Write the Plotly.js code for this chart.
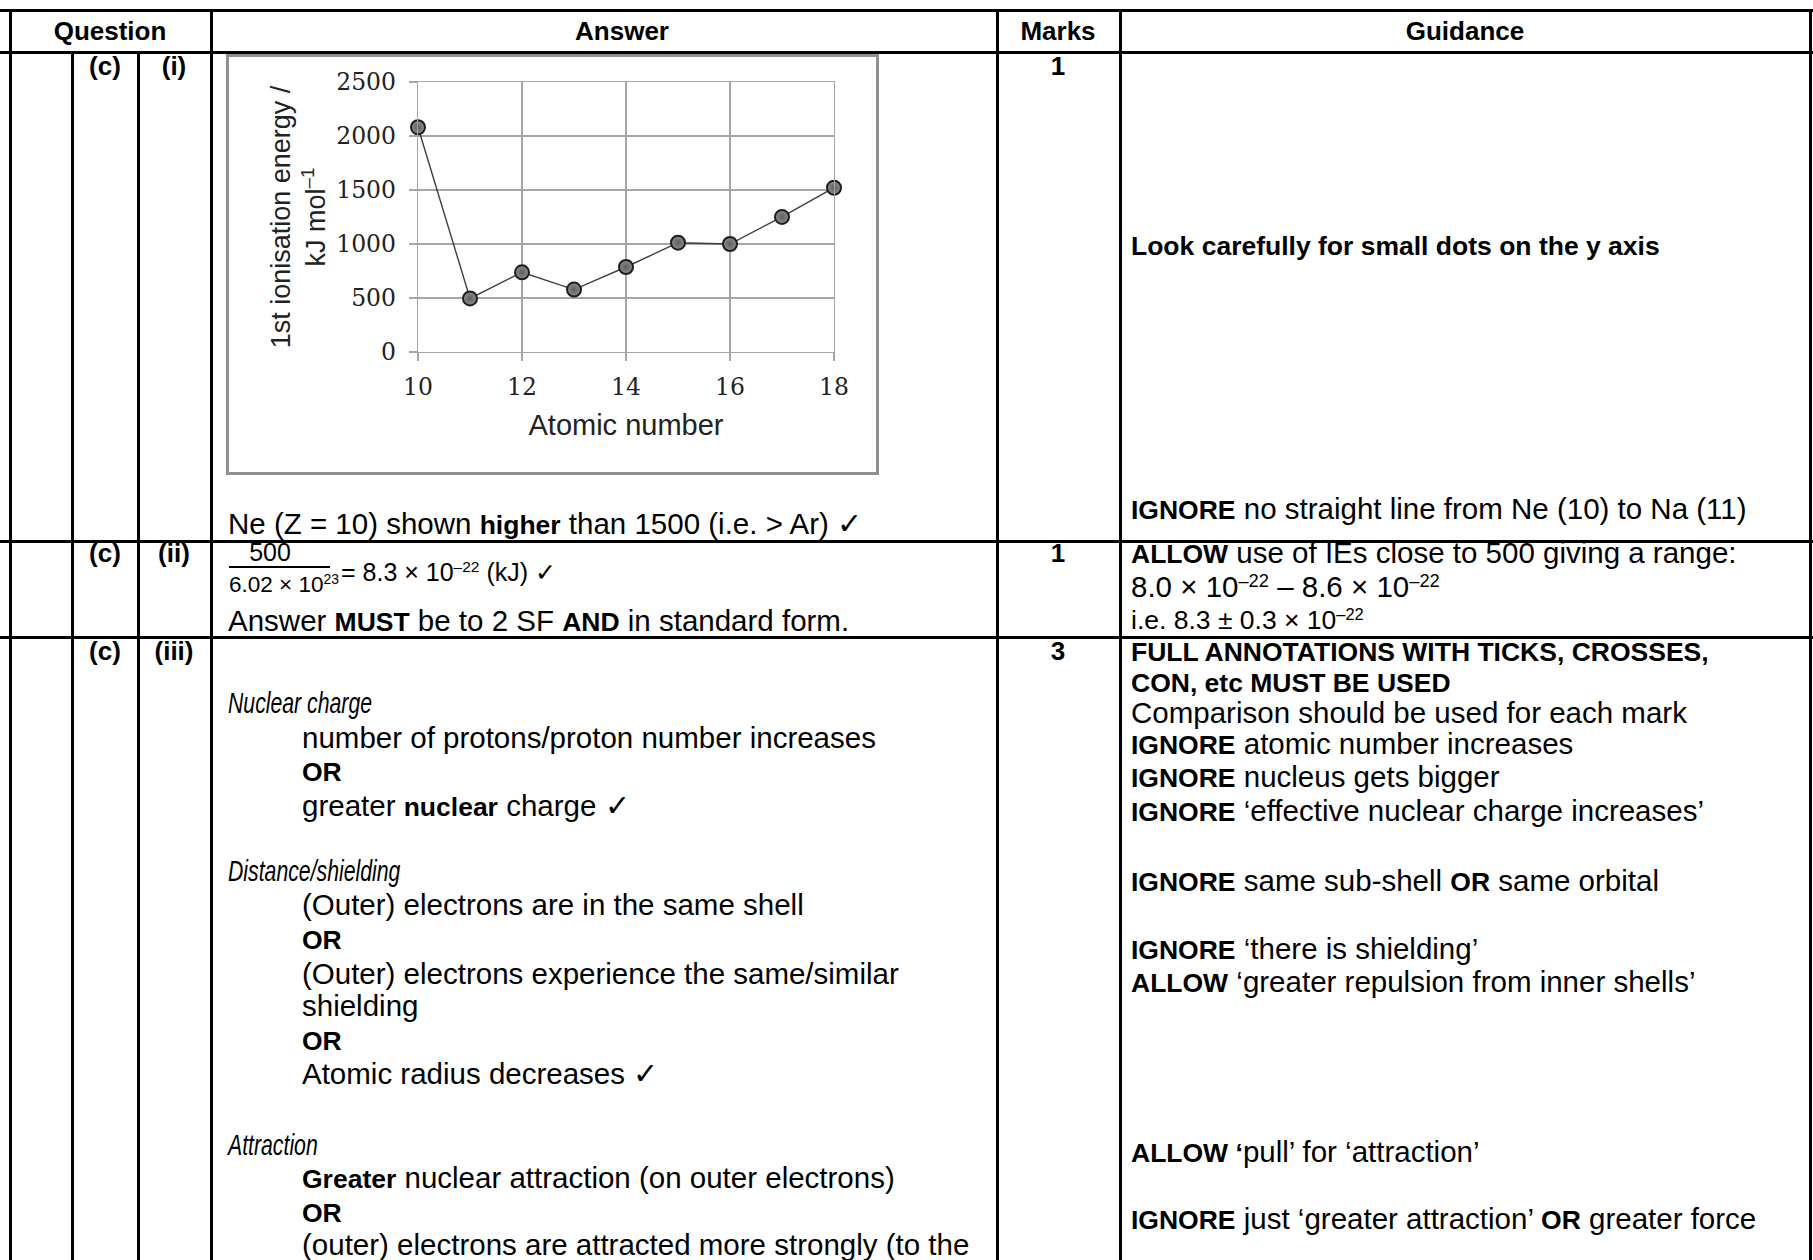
<!DOCTYPE html>
<html>
<head>
<meta charset="utf-8">
<script src="https://cdn.plot.ly/plotly-3.0.1.min.js"></script>
<style>
  html, body { margin: 0; padding: 0; background: #ffffff; }
  #page { position: relative; width: 1813px; height: 1260px; overflow: hidden; background: #fff;
          font-family: "Liberation Sans", Arial, sans-serif; font-size: 29.5px; color: #000; }
  .hl { position: absolute; background: #000; height: 3px; }
  .vl { position: absolute; background: #000; width: 3px; }
  .t { position: absolute; white-space: nowrap; height: 28px; line-height: 28px; }
  .t b { font-size: 26.5px; }
  .c { transform: translateX(-50%); }
  .b { font-weight: bold; font-size: 26px; }
  .it { transform-origin: 0 50%; transform: scaleX(0.72); }
  .f25 { font-size: 25px; }
  .f26 { font-size: 26.5px; }
  sup { font-size: 0.62em; vertical-align: 0; position: relative; top: -0.55em; line-height: 0; }
  #chartBox { position: absolute; left: 226px; top: 54px; width: 653px; height: 421px;
              border: 3px solid #8f8f8f; box-sizing: border-box; background: #fff; }
  #chart { position: absolute; left: 0; top: 0; width: 647px; height: 415px; }
  .frac { position: absolute; background: #000; height: 2px; }
</style>
</head>
<body>
<div id="page">
  <div id="chartBox"><div id="chart"></div></div>
</div>
<script>
// ---- chart data ----
const atomicNumbers = [10, 11, 12, 13, 14, 15, 16, 17, 18];
const ionisationEnergies = [2081, 496, 738, 578, 787, 1012, 1000, 1251, 1521];
const xTickValues = [10, 12, 14, 16, 18];
const yTickValues = [0, 500, 1000, 1500, 2000, 2500];
const xAxisTitle = "Atomic number";
const yAxisTitle = "1st ionisation energy /<br>kJ mol<sup>\u20131</sup>";

// ---- table text ----
const headerCells = [
  [110, 31, "Question"], [622, 31, "Answer"], [1058, 31, "Marks"], [1465, 31, "Guidance"]
];
const centeredCells = [
  [105, 66, "(c)"], [174, 66, "(i)"], [1058, 66, "1"],
  [105, 553, "(c)"], [174, 553, "(ii)"], [1058, 553, "1"],
  [105, 651, "(c)"], [174, 651, "(iii)"], [1058, 651, "3"]
];
// [x, yCenter, html, extraClass]
const textLines = [
  [228, 524, "Ne (Z = 10) shown <b>higher</b> than 1500 (i.e. &gt; Ar) \u2713", ""],
  [1131, 245, "<b>Look carefully for small dots on the y axis</b>", ""],
  [1131, 509, "<b>IGNORE</b> no straight line from Ne (10) to Na (11)", ""],
  [341, 572, "= 8.3 \u00d7 10<sup>\u201322</sup> (kJ) \u2713", "f25"],
  [228, 621, "Answer <b>MUST</b> be to 2 SF <b>AND</b> in standard form.", ""],
  [1131, 553, "<b>ALLOW</b> use of IEs close to 500 giving a range:", ""],
  [1131, 587, "8.0 \u00d7 10<sup>\u201322</sup> \u2013 8.6 \u00d7 10<sup>\u201322</sup>", ""],
  [1131, 620, "i.e. 8.3 \u00b1 0.3 \u00d7 10<sup>\u201322</sup>", "f26"],
  [1131, 651, "<b>FULL ANNOTATIONS WITH TICKS, CROSSES,</b>", ""],
  [1131, 682, "<b>CON, etc MUST BE USED</b>", ""],
  [1131, 713, "Comparison should be used for each mark", ""],
  [1131, 744, "<b>IGNORE</b> atomic number increases", ""],
  [1131, 777, "<b>IGNORE</b> nucleus gets bigger", ""],
  [1131, 811, "<b>IGNORE</b> \u2018effective nuclear charge increases\u2019", ""],
  [1131, 881, "<b>IGNORE</b> same sub-shell <b>OR</b> same orbital", ""],
  [1131, 949, "<b>IGNORE</b> \u2018there is shielding\u2019", ""],
  [1131, 982, "<b>ALLOW</b> \u2018greater repulsion from inner shells\u2019", ""],
  [1131, 1152, "<b>ALLOW \u2018</b>pull\u2019 for \u2018attraction\u2019", ""],
  [1131, 1219, "<b>IGNORE</b> just \u2018greater attraction\u2019 <b>OR</b> greater force", ""],
  [228, 703, "<i>Nuclear charge</i>", "it"],
  [302, 738, "number of protons/proton number increases", ""],
  [302, 771, "<b>OR</b>", ""],
  [302, 806, "greater <b>nuclear</b> charge \u2713", ""],
  [228, 871, "<i>Distance/shielding</i>", "it"],
  [302, 905, "(Outer) electrons are in the same shell", ""],
  [302, 939, "<b>OR</b>", ""],
  [302, 974, "(Outer) electrons experience the same/similar", ""],
  [302, 1006, "shielding", ""],
  [302, 1040, "<b>OR</b>", ""],
  [302, 1074, "Atomic radius decreases \u2713", ""],
  [228, 1145, "<i>Attraction</i>", "it"],
  [302, 1178, "<b>Greater</b> nuclear attraction (on outer electrons)", ""],
  [302, 1212, "<b>OR</b>", ""],
  [302, 1245, "(outer) electrons are attracted more strongly (to the", ""]
];

const page = document.getElementById("page");
function addDiv(cls, style, html) {
  const d = document.createElement("div");
  d.className = cls;
  Object.assign(d.style, style);
  if (html !== undefined) d.innerHTML = html;
  page.appendChild(d);
  return d;
}
// table rules
[[9, 0, 1813], [51, 0, 1813], [540, 0, 1813], [636, 0, 1813]].forEach(r =>
  addDiv("hl", {top: r[0] + "px", left: r[1] + "px", width: r[2] + "px"}));
[[9, 9], [71, 51], [137, 51], [210, 9], [996, 9], [1119, 9], [1809, 9]].forEach(v =>
  addDiv("vl", {left: v[0] + "px", top: v[1] + "px", height: (1260 - v[1]) + "px"}));

headerCells.forEach(h => addDiv("t c b", {left: h[0] + "px", top: (h[1] - 14) + "px"}, h[2]));
centeredCells.forEach(h => addDiv("t c b", {left: h[0] + "px", top: (h[1] - 14) + "px"}, h[2]));
textLines.forEach(l => addDiv("t " + l[3], {left: l[0] + "px", top: (l[1] - 14) + "px"}, l[2]));

// fraction 500 / 6.02 x 10^23
addDiv("t c f25", {left: "270px", top: (552 - 12) + "px", height: "24px", lineHeight: "24px"}, "500");
addDiv("frac", {left: "229px", top: "566px", width: "101px"});
addDiv("t", {left: "229px", top: (585 - 12) + "px", height: "24px", lineHeight: "24px", fontSize: "22.5px"}, "6.02 \u00d7 10<sup>23</sup>");

// ---- the chart ----
const gridGray = "#a6a6a6";
Plotly.newPlot("chart", [{
  x: atomicNumbers,
  y: ionisationEnergies,
  type: "scatter",
  mode: "lines+markers",
  cliponaxis: false,
  line: {color: "#3f3f3f", width: 1.4},
  marker: {size: 14, color: "#8e8e8e", line: {color: "#1e1e1e", width: 2},
           gradient: {type: "radial", color: "#5e5e5e"}},
  showlegend: false,
  hoverinfo: "x+y"
}], {
  width: 647, height: 415,
  margin: {l: 189, r: 42, t: 25, b: 120},
  paper_bgcolor: "#ffffff", plot_bgcolor: "#ffffff",
  font: {family: "Liberation Sans, Arial, sans-serif", color: "#000"},
  xaxis: {
    range: [10, 18], tickvals: xTickValues, ticktext: xTickValues.map(String),
    showgrid: true, gridcolor: gridGray, gridwidth: 1.3,
    showline: true, linecolor: gridGray, linewidth: 1.3, mirror: true,
    ticks: "outside", ticklen: 8, tickcolor: gridGray, tickwidth: 1.3,
    zeroline: false, ticklabelstandoff: 5,
    tickfont: {family: "DejaVu Serif, serif", size: 23.5, color: "#222"},
    title: {text: xAxisTitle, standoff: 15, font: {family: "Liberation Sans, Arial, sans-serif", size: 29, color: "#222"}}
  },
  yaxis: {
    range: [0, 2500], tickvals: yTickValues, ticktext: yTickValues.map(String),
    showgrid: true, gridcolor: gridGray, gridwidth: 1.3,
    showline: true, linecolor: gridGray, linewidth: 1.3, mirror: true,
    ticks: "outside", ticklen: 8, tickcolor: gridGray, tickwidth: 1.3,
    zeroline: false, ticklabelstandoff: 8,
    tickfont: {family: "DejaVu Serif, serif", size: 23.5, color: "#222"},
    title: {text: yAxisTitle, standoff: 2, font: {family: "Liberation Sans, Arial, sans-serif", size: 27, color: "#222"}}
  }
}, {displayModeBar: false, staticPlot: true});
</script>
</body>
</html>
